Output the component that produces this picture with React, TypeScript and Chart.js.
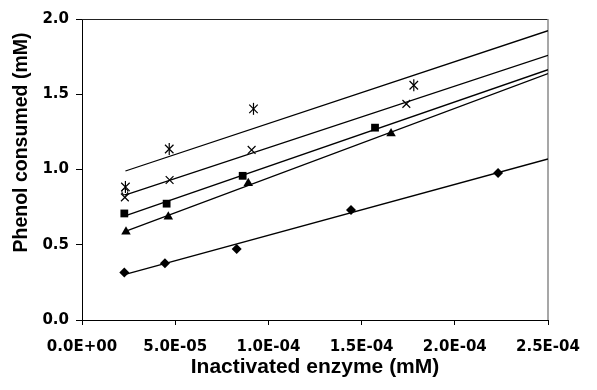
import React, { useEffect, useRef } from "react";
import { Chart, registerables } from "chart.js";

Chart.register(...registerables);

// Data (x in mM of inactivated enzyme, y in mM phenol consumed)
const diamondX = [2.27e-5, 4.45e-5, 8.3e-5, 1.443e-4, 2.232e-4];
const diamondY = [0.316, 0.377, 0.472, 0.731, 0.977];

const triangleX = [2.36e-5, 4.63e-5, 8.92e-5, 1.658e-4];
const triangleY = [0.587, 0.686, 0.908, 1.24];

const squareX = [2.27e-5, 4.54e-5, 8.62e-5, 1.572e-4];
const squareY = [0.708, 0.773, 0.958, 1.278];

const crossX = [2.3e-5, 4.7e-5, 9.1e-5, 1.74e-4];
const crossY = [0.815, 0.93, 1.13, 1.436];

const starX = [2.33e-5, 4.68e-5, 9.2e-5, 1.78e-4];
const starY = [0.884, 1.136, 1.403, 1.56];

const circleX = [2.3e-5];
const circleY = [0.852];

// Trend lines (start at first x of each series, end at the axis maximum)
const trendStartY = [0.301, 0.59, 0.69, 0.83, 0.99];
const trendEndY = [1.07, 1.637, 1.663, 1.758, 1.922];
const trendEndX = 2.5e-4;

const xTickLabels = ["0.0E+00", "5.0E-05", "1.0E-04", "1.5E-04", "2.0E-04", "2.5E-04"];
const yTickLabels = ["0.0", "0.5", "1.0", "1.5", "2.0"];

const xTitle = "Inactivated enzyme (mM)";
const yTitle = "Phenol consumed (mM)";

const toPts = (xs: number[], ys: number[]) => xs.map((x, i) => ({ x, y: ys[i] }));

export default function App() {
  const ref = useRef<HTMLCanvasElement | null>(null);

  useEffect(() => {
    if (!ref.current) return;

    const seriesX = [diamondX, triangleX, squareX, crossX, starX];
    const trendSets = seriesX.map((xs, i) => ({
      type: "scatter" as const,
      data: [
        { x: xs[0], y: trendStartY[i] },
        { x: trendEndX, y: trendEndY[i] },
      ],
      showLine: true,
      borderColor: "#000",
      borderWidth: 1.3,
      pointRadius: 0,
      fill: false,
    }));

    const framePlugin = {
      id: "frame",
      beforeDatasetsDraw(chart: any) {
        const { ctx, chartArea } = chart;
        ctx.save();
        ctx.strokeStyle = "#222";
        ctx.lineWidth = 1;
        ctx.beginPath();
        ctx.moveTo(chartArea.left, Math.round(chartArea.top) + 0.5);
        ctx.lineTo(chartArea.right, Math.round(chartArea.top) + 0.5);
        ctx.stroke();
        ctx.strokeStyle = "#8a8a8a";
        ctx.lineWidth = 1.5;
        ctx.beginPath();
        ctx.moveTo(chartArea.right, chartArea.top);
        ctx.lineTo(chartArea.right, chartArea.bottom);
        ctx.stroke();
        ctx.restore();
      },
      afterDraw(chart: any) {
        const { ctx, chartArea } = chart;
        ctx.save();
        ctx.fillStyle = "#000";
        ctx.font = "bold 19.5px 'Liberation Sans', Arial, sans-serif";
        ctx.textAlign = "center";
        ctx.textBaseline = "middle";
        ctx.translate(chartArea.left - 60, (chartArea.top + chartArea.bottom) / 2 - 27);
        ctx.rotate(-Math.PI / 2);
        ctx.fillText(yTitle, 0, 0);
        ctx.restore();
      },
    };

    const tickFont = { family: "'DejaVu Sans', sans-serif", size: 15, weight: "bold" as const };

    const chart = new Chart(ref.current, {
      type: "scatter",
      data: {
        datasets: [
          ...trendSets,
          {
            data: toPts(diamondX, diamondY),
            pointStyle: "rectRot",
            pointRadius: 5,
            backgroundColor: "#000",
            borderColor: "#000",
            borderWidth: 0,
          },
          {
            data: toPts(triangleX, triangleY),
            pointStyle: "triangle",
            pointRadius: 5.5,
            backgroundColor: "#000",
            borderColor: "#000",
            borderWidth: 0,
          },
          {
            data: toPts(squareX, squareY),
            pointStyle: "rect",
            pointRadius: 5.5,
            backgroundColor: "#000",
            borderColor: "#000",
            borderWidth: 0,
          },
          {
            data: toPts(crossX, crossY),
            pointStyle: "crossRot",
            pointRadius: 5.5,
            backgroundColor: "#000",
            borderColor: "#000",
            borderWidth: 1.2,
          },
          {
            data: toPts(circleX, circleY),
            pointStyle: "circle",
            pointRadius: 3,
            backgroundColor: "rgba(255,255,255,0)",
            borderColor: "#000",
            borderWidth: 1,
          },
          // asterisk = diagonal cross + vertical bar, same points
          {
            data: toPts(starX, starY),
            pointStyle: "crossRot",
            pointRadius: 6,
            backgroundColor: "#000",
            borderColor: "#000",
            borderWidth: 1.2,
          },
          {
            data: toPts(starX, starY),
            pointStyle: "line",
            rotation: 90,
            pointRadius: 6,
            backgroundColor: "#000",
            borderColor: "#000",
            borderWidth: 1.2,
          },
        ],
      },
      options: {
        animation: false,
        responsive: false,
        maintainAspectRatio: false,
        layout: { padding: { top: 19, right: 49, left: 0, bottom: 0 } },
        plugins: {
          legend: { display: false },
          tooltip: { enabled: false },
        },
        scales: {
          x: {
            type: "linear",
            min: 0,
            max: 2.5e-4,
            afterFit: (s: any) => {
              s.height = 70;
            },
            afterBuildTicks: (s: any) => {
              s.ticks = xTickLabels.map((_, i) => ({ value: i * 5e-5 }));
            },
            ticks: {
              color: "#000",
              font: tickFont,
              padding: 13,
              maxRotation: 0,
              autoSkip: false,
              callback: (_v: any, i: number) => xTickLabels[i],
            },
            grid: {
              drawOnChartArea: false,
              drawTicks: true,
              tickLength: 5,
              color: "#000",
            },
            border: { display: true, color: "#000", width: 1 },
            title: {
              display: true,
              text: xTitle,
              color: "#000",
              font: { family: "'Liberation Sans', Arial, sans-serif", size: 21, weight: "bold" },
              padding: { top: 0, bottom: 10 },
            },
          },
          y: {
            type: "linear",
            min: 0,
            max: 2,
            afterFit: (s: any) => {
              s.width = 82;
            },
            afterBuildTicks: (s: any) => {
              s.ticks = yTickLabels.map((_, i) => ({ value: i * 0.5 }));
            },
            ticks: {
              color: "#000",
              font: tickFont,
              padding: 7,
              autoSkip: false,
              callback: (_v: any, i: number) => yTickLabels[i],
            },
            grid: {
              drawOnChartArea: false,
              drawTicks: true,
              tickLength: 6,
              color: "#000",
            },
            border: { display: true, color: "#000", width: 1 },
            title: { display: false },
          },
        },
      },
      plugins: [framePlugin],
    });

    return () => chart.destroy();
  }, []);

  return (
    <canvas
      ref={ref}
      width={597}
      height={390}
      style={{ position: "fixed", left: 0, top: 0, width: 597, height: 390, background: "#fff" }}
    />
  );
}
